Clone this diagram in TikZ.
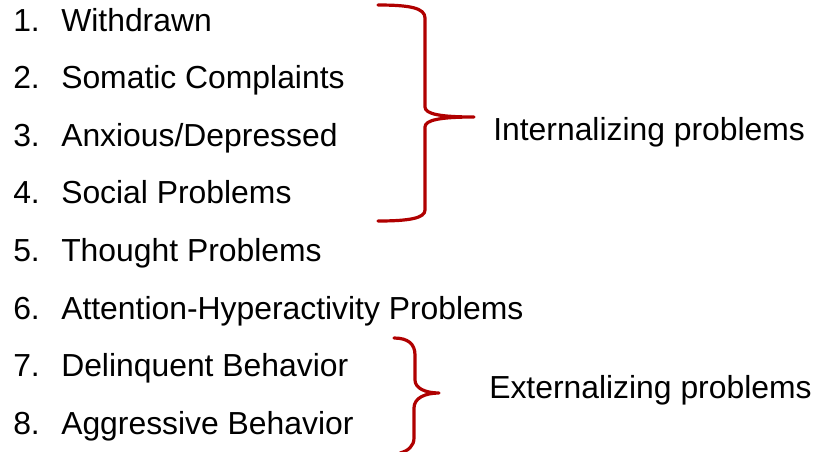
\documentclass[tikz,border=0pt]{standalone}
\usepackage{fontspec}
\setmainfont{Liberation Sans}
\definecolor{bracered}{RGB}{176,0,0}
\begin{document}
\begin{tikzpicture}[x=0.75pt,y=-0.75pt,
  txt/.style={anchor=base west,inner sep=0pt,font=\fontsize{23.9}{28}\selectfont},
  brace/.style={draw=bracered,line width=2.4pt,line cap=round,line join=round}]
\useasboundingbox (0,0) rectangle (815,451);
\foreach \i/\t/\y in {1/Withdrawn/31,2/Somatic Complaints/88.6,3/Anxious\slash Depressed/146.2,4/Social Problems/203.8,5/Thought Problems/261.4,6/Attention-Hyperactivity Problems/319,7/Delinquent Behavior/376.6,8/Aggressive Behavior/434}{
  \node[txt] (n\i) at (13,\y) {\i.};
  \node[txt] (l\i) at (61,\y) {\t};
}
\node[txt] (int) at (493,140) {Internalizing problems};
\node[txt] (ext) at (489,398) {Externalizing problems};
\coordinate (b1tip) at (474,117);
\coordinate (b2tip) at (439,393);
\draw[brace] (378,5) .. controls (410,5) and (425,8) .. (425,18) -- (425,107)
  .. controls (425,114) and (440,117) .. (b1tip)
  .. controls (440,117) and (425,120) .. (425,127) -- (425,210)
  .. controls (425,218) and (410,221) .. (378,221);
\draw[brace] (394,338) .. controls (408,338) and (415,344) .. (415,355) -- (415,380)
  .. controls (415,388) and (425,393) .. (b2tip)
  .. controls (425,393) and (414,398) .. (414,408) -- (414,438)
  .. controls (414,446) and (408,451) .. (400,453);
\end{tikzpicture}
\end{document}
